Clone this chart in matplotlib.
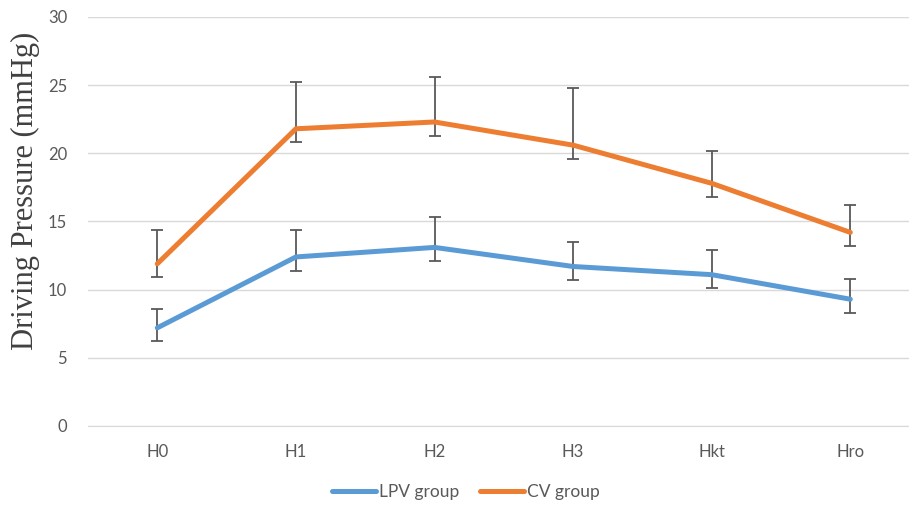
import numpy as np
import matplotlib.pyplot as plt

# data
categories = ['H0', 'H1', 'H2', 'H3', 'Hkt', 'Hro']
lpv = [7.2, 12.4, 13.1, 11.7, 11.1, 9.3]
lpv_lo = [1.0, 1.0, 1.0, 1.0, 1.0, 1.0]
lpv_hi = [1.4, 2.0, 2.2, 1.8, 1.8, 1.5]
cv = [11.9, 21.8, 22.3, 20.6, 17.8, 14.2]
cv_lo = [1.0, 1.0, 1.0, 1.0, 1.0, 1.0]
cv_hi = [2.5, 3.4, 3.3, 4.2, 2.4, 2.0]

blue = '#5B9BD5'
orange = '#ED7D31'
grey = '#595959'

fig = plt.figure(figsize=(9.09, 5.05), dpi=100)
ax = fig.add_axes([88 / 909, 1 - 426 / 505, 831.6 / 909, 409 / 505])
x = np.arange(len(categories))

for vals, lo, hi, col, name in [(lpv, lpv_lo, lpv_hi, blue, 'LPV group'),
                                (cv, cv_lo, cv_hi, orange, 'CV group')]:
    ax.errorbar(x, vals, yerr=[lo, hi], fmt='none', ecolor=grey,
                elinewidth=1.3, capsize=4, capthick=1.3, zorder=3)
    ax.plot(x, vals, color=col, lw=3.6, solid_capstyle='round',
            solid_joinstyle='round', zorder=4, label=name)

ax.set_xlim(-0.5, len(categories) - 0.5)
ax.set_ylim(0, 30)
ax.set_yticks(np.arange(0, 31, 5))
ax.set_xticks(x)
ax.set_xticklabels(categories)
ax.tick_params(length=0, labelsize=12, colors=grey, labelfontfamily='Lato')
ax.tick_params(axis='y', pad=15)
ax.tick_params(axis='x', pad=13)
ax.grid(axis='y', color='#D9D9D9', lw=1)
ax.set_axisbelow(True)
for s in ['top', 'right', 'left']:
    ax.spines[s].set_visible(False)
ax.spines['bottom'].set_color('#D9D9D9')

fig.text(25 / 909, 1 - 191 / 505, 'Driving Pressure (mmHg)', rotation=90,
         ha='center', va='center', fontsize=22, family='Liberation Serif',
         color='#404040')

fig.legend(loc='center', bbox_to_anchor=(466 / 909, 1 - 492 / 505), ncol=2,
           frameon=False, prop={'family': 'Lato', 'size': 12.5}, labelcolor=grey,
           handlelength=2.5, handletextpad=0.2, columnspacing=1.2)

fig.savefig('out.png', dpi=100)
